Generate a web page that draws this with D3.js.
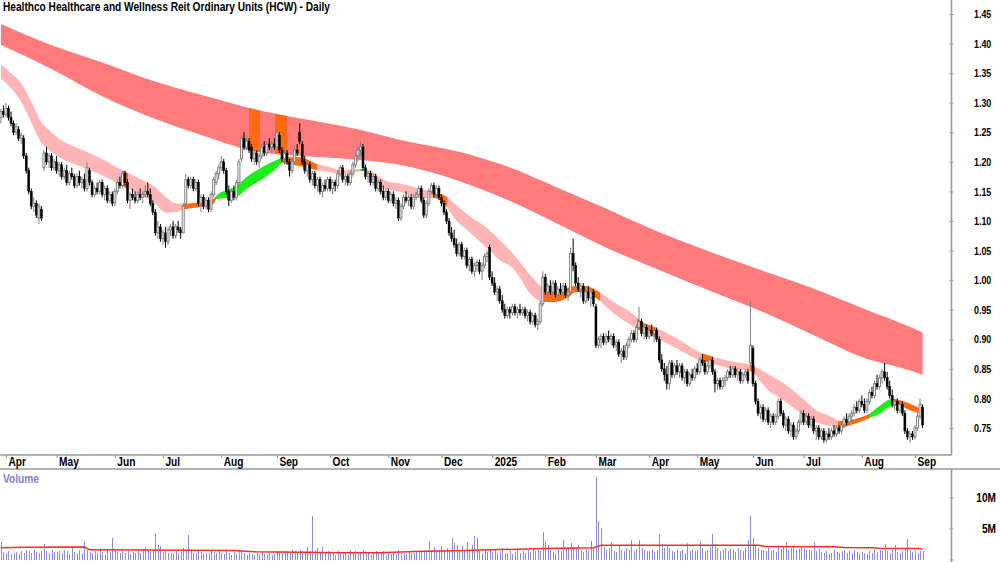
<!DOCTYPE html>
<html>
<head>
<meta charset="utf-8">
<script src="https://cdn.jsdelivr.net/npm/d3@7"></script>
<style>
  body { margin: 0; background: #fff; }
  svg { display: block; font-family: "Liberation Sans Narrow", "Arial Narrow", "Liberation Sans", Arial, sans-serif; font-weight: bold; }
</style>
</head>
<body>
<svg id="chart" width="1000" height="562"></svg>
<script>
'use strict';

// trading calendar (ASX)
var firstDay = '2024-03-27';
var lastDay = '2025-09-04';
var holidays = ['2024-03-29', '2024-04-01', '2024-04-25', '2024-06-10', '2024-12-25', '2024-12-26',
  '2025-01-01', '2025-01-27', '2025-04-18', '2025-04-21', '2025-04-25', '2025-06-09'];

// daily prices, in tenths of a cent (1275 = $1.275)
var opens = [
  1275, 1285,
  1280, 1290, 1275, 1265, 1250, 1255, 1240, 1240, 1210, 1185, 1150, 1125, 1130, 1105, 1120, 1190, 1215, 1200, 1210, 1190,
  1200, 1185, 1195, 1175, 1185, 1165, 1180, 1175, 1160, 1175, 1165, 1170, 1155, 1185, 1165, 1145, 1155, 1150, 1165, 1145, 1155, 1135, 1145,
  1130, 1150, 1165, 1160, 1180, 1165, 1135, 1145, 1140, 1135, 1145, 1140, 1145, 1150, 1145, 1130, 1115, 1080, 1090,
  1070, 1080, 1065, 1085, 1090, 1075, 1090, 1085, 1080, 1130, 1170, 1160, 1170, 1155, 1165, 1130, 1140, 1125, 1135, 1120, 1145, 1165, 1180,
  1190, 1200, 1185, 1150, 1135, 1150, 1140, 1165, 1205, 1240, 1225, 1235, 1225, 1205, 1215, 1200, 1210, 1225, 1215, 1230, 1225, 1230,
  1225, 1245, 1220, 1205, 1215, 1200, 1185, 1200, 1220, 1250, 1230, 1200, 1185, 1195, 1170, 1180, 1160, 1170, 1150, 1160, 1155,
  1170, 1155, 1165, 1160, 1180, 1190, 1170, 1175, 1165, 1180, 1195, 1210, 1220, 1225, 1190, 1175, 1180, 1165, 1175, 1155, 1165, 1150, 1140,
  1150, 1135, 1145, 1130, 1135, 1105, 1125, 1140, 1135, 1140, 1125, 1140, 1145, 1155, 1135, 1110, 1130, 1150, 1160, 1145, 1155,
  1140, 1130, 1115, 1100, 1080, 1070, 1060, 1045, 1060, 1040, 1050, 1025, 1035, 1015, 1025, 1030, 1015, 1025, 1040, 1055,
  1005, 995, 980, 985, 965, 950, 940, 950, 945, 955, 945, 950, 945, 950, 940, 945, 930, 940, 925, 930, 960,
  1005, 980, 990, 980, 995, 975, 985, 980, 990, 975, 980, 1045, 1025, 995, 985, 990, 965, 980, 970, 980,
  955, 890, 900, 905, 895, 905, 900, 905, 890, 895, 875, 880, 870, 890, 900, 910, 900, 920, 930, 910, 920,
  905, 915, 910, 915, 900, 865, 850, 840, 825, 860, 840, 855, 845, 855, 835, 845, 825, 840, 835,
  850, 845, 865, 860, 845, 855, 865, 845, 825, 830, 820, 830, 835, 845, 840, 850, 840, 845, 830, 840, 845, 860,
  885, 825, 795, 775, 785, 765, 780, 760, 770, 760, 770, 795, 775, 755, 765, 745, 755, 735, 745, 760,
  775, 760, 770, 755, 765, 745, 750, 735, 745, 730, 740, 735, 745, 740, 750, 745, 755, 765, 760, 770, 775, 785, 780,
  795, 790, 780, 795, 810, 805, 825, 820, 835, 845, 835, 820, 805, 790, 795, 780, 790, 775, 745, 735, 740,
  735, 750, 770, 785
];
var highs = [
  1290, 1295,
  1300, 1295, 1285, 1270, 1265, 1260, 1250, 1245, 1215, 1190, 1155, 1140, 1135, 1130, 1125, 1220, 1225, 1215, 1215, 1205,
  1210, 1200, 1200, 1190, 1195, 1185, 1190, 1180, 1180, 1185, 1175, 1180, 1200, 1190, 1170, 1160, 1165, 1170, 1170, 1160, 1160, 1150, 1150,
  1155, 1170, 1175, 1185, 1185, 1170, 1150, 1155, 1150, 1150, 1155, 1150, 1160, 1165, 1155, 1135, 1120, 1100, 1095,
  1085, 1090, 1090, 1095, 1100, 1095, 1100, 1090, 1130, 1180, 1175, 1175, 1175, 1170, 1170, 1145, 1145, 1140, 1140, 1150, 1175, 1185, 1195,
  1210, 1205, 1190, 1160, 1155, 1160, 1170, 1205, 1245, 1250, 1245, 1240, 1230, 1220, 1220, 1215, 1230, 1235, 1235, 1240, 1235, 1240,
  1255, 1250, 1225, 1220, 1220, 1205, 1205, 1225, 1230, 1265, 1235, 1210, 1200, 1200, 1185, 1185, 1175, 1175, 1165, 1170, 1175,
  1175, 1170, 1170, 1185, 1195, 1195, 1180, 1180, 1185, 1200, 1215, 1225, 1235, 1230, 1195, 1185, 1185, 1180, 1180, 1170, 1170, 1160, 1155,
  1155, 1150, 1150, 1140, 1140, 1130, 1145, 1150, 1145, 1145, 1145, 1150, 1160, 1160, 1140, 1135, 1155, 1165, 1165, 1160, 1160,
  1145, 1135, 1120, 1105, 1090, 1085, 1070, 1065, 1065, 1055, 1055, 1040, 1040, 1030, 1035, 1035, 1030, 1045, 1050, 1060,
  1015, 1005, 990, 990, 975, 960, 955, 955, 960, 960, 955, 960, 955, 955, 950, 950, 945, 945, 935, 965, 1015,
  1010, 995, 1000, 1000, 1000, 990, 995, 995, 995, 985, 1055, 1070, 1030, 1005, 995, 995, 985, 990, 985, 985,
  960, 905, 910, 910, 910, 915, 910, 910, 900, 900, 885, 890, 895, 905, 915, 915, 925, 955, 935, 925, 925,
  920, 925, 920, 920, 905, 875, 860, 855, 865, 865, 860, 865, 860, 860, 850, 850, 845, 850, 855,
  860, 870, 875, 865, 860, 870, 870, 850, 835, 835, 835, 840, 850, 855, 855, 855, 850, 850, 845, 850, 850, 965,
  890, 830, 800, 790, 790, 785, 785, 775, 775, 775, 800, 800, 780, 770, 770, 760, 760, 750, 765, 780,
  780, 775, 775, 770, 770, 755, 755, 750, 750, 745, 750, 750, 755, 755, 755, 760, 770, 775, 775, 780, 790, 795, 800,
  805, 800, 800, 815, 820, 830, 840, 840, 850, 860, 845, 830, 815, 800, 800, 795, 795, 780, 750, 745, 745,
  755, 775, 800, 790
];
var lows = [
  1265, 1275,
  1275, 1270, 1260, 1245, 1245, 1235, 1230, 1205, 1180, 1145, 1120, 1115, 1105, 1095, 1100, 1185, 1195, 1190, 1185, 1185,
  1180, 1175, 1170, 1170, 1160, 1160, 1170, 1155, 1155, 1160, 1155, 1150, 1150, 1160, 1140, 1140, 1145, 1145, 1140, 1135, 1130, 1130, 1125,
  1125, 1145, 1155, 1155, 1160, 1130, 1120, 1135, 1130, 1130, 1135, 1130, 1140, 1140, 1125, 1110, 1075, 1070, 1065,
  1060, 1055, 1060, 1075, 1070, 1070, 1080, 1070, 1080, 1125, 1155, 1155, 1150, 1150, 1125, 1115, 1120, 1120, 1115, 1115, 1140, 1160, 1170,
  1185, 1180, 1145, 1125, 1130, 1135, 1135, 1160, 1200, 1220, 1220, 1215, 1200, 1195, 1195, 1190, 1205, 1210, 1210, 1220, 1215, 1220,
  1220, 1215, 1200, 1195, 1195, 1175, 1180, 1195, 1210, 1230, 1195, 1180, 1175, 1165, 1160, 1155, 1150, 1145, 1140, 1150, 1150,
  1150, 1145, 1150, 1155, 1175, 1165, 1160, 1160, 1160, 1175, 1190, 1200, 1210, 1185, 1170, 1165, 1160, 1160, 1150, 1150, 1145, 1135, 1135,
  1130, 1130, 1125, 1120, 1100, 1100, 1120, 1130, 1125, 1120, 1120, 1135, 1140, 1130, 1105, 1105, 1125, 1145, 1140, 1140, 1135,
  1125, 1110, 1095, 1075, 1065, 1055, 1040, 1040, 1035, 1035, 1020, 1015, 1010, 1005, 1015, 1010, 1000, 1020, 1030, 1000,
  990, 975, 965, 960, 945, 935, 935, 935, 940, 940, 935, 940, 940, 935, 930, 925, 925, 920, 915, 925, 955,
  975, 970, 975, 975, 970, 965, 975, 975, 970, 965, 975, 1015, 990, 980, 970, 960, 960, 965, 955, 955,
  885, 885, 885, 890, 890, 895, 890, 885, 880, 870, 860, 865, 865, 885, 895, 895, 895, 915, 905, 900, 900,
  900, 905, 895, 895, 860, 845, 830, 815, 815, 835, 835, 840, 835, 830, 825, 820, 820, 830, 830,
  840, 840, 855, 840, 840, 850, 840, 810, 815, 815, 815, 820, 830, 835, 835, 835, 830, 825, 825, 835, 825, 855,
  820, 790, 770, 765, 760, 760, 755, 750, 755, 755, 765, 770, 750, 745, 740, 735, 730, 730, 740, 755,
  755, 755, 750, 750, 740, 730, 730, 730, 725, 725, 730, 730, 735, 735, 740, 740, 750, 755, 755, 760, 770, 775, 775,
  785, 775, 775, 790, 800, 800, 815, 815, 825, 830, 815, 800, 785, 780, 775, 775, 770, 740, 730, 725, 730,
  730, 745, 765, 750
];
var closes = [
  1285, 1280,
  1290, 1275, 1265, 1250, 1260, 1240, 1245, 1210, 1185, 1150, 1125, 1130, 1110, 1125, 1105, 1215, 1200, 1210, 1190, 1200,
  1185, 1195, 1175, 1185, 1165, 1180, 1175, 1160, 1175, 1165, 1170, 1155, 1190, 1165, 1145, 1155, 1150, 1165, 1145, 1155, 1135, 1145, 1130,
  1150, 1165, 1160, 1180, 1165, 1135, 1145, 1140, 1135, 1145, 1140, 1145, 1150, 1145, 1130, 1115, 1080, 1090, 1070,
  1080, 1065, 1085, 1090, 1075, 1090, 1085, 1080, 1125, 1170, 1160, 1170, 1155, 1165, 1130, 1140, 1125, 1135, 1120, 1145, 1170, 1180, 1190,
  1200, 1185, 1150, 1135, 1150, 1140, 1165, 1200, 1240, 1225, 1235, 1220, 1205, 1215, 1200, 1210, 1225, 1215, 1230, 1225, 1230, 1225,
  1250, 1220, 1205, 1215, 1200, 1185, 1200, 1220, 1215, 1235, 1200, 1185, 1195, 1170, 1180, 1160, 1170, 1150, 1160, 1155, 1170,
  1155, 1165, 1160, 1180, 1190, 1170, 1175, 1165, 1180, 1195, 1210, 1220, 1225, 1190, 1175, 1180, 1165, 1175, 1155, 1165, 1150, 1140, 1150,
  1135, 1145, 1130, 1135, 1105, 1125, 1140, 1135, 1140, 1125, 1140, 1145, 1155, 1135, 1110, 1130, 1150, 1160, 1145, 1155, 1140,
  1130, 1115, 1100, 1080, 1070, 1060, 1045, 1060, 1040, 1050, 1025, 1035, 1015, 1025, 1030, 1015, 1025, 1040, 1045, 1005,
  995, 980, 985, 965, 950, 940, 950, 945, 955, 945, 950, 945, 950, 940, 945, 930, 940, 925, 930, 960, 1005,
  980, 990, 980, 995, 975, 985, 980, 990, 975, 980, 1045, 1025, 995, 985, 990, 965, 980, 970, 980, 960,
  890, 900, 905, 895, 905, 900, 905, 890, 895, 875, 880, 870, 890, 900, 910, 900, 920, 930, 910, 920, 905,
  915, 910, 915, 900, 865, 850, 840, 825, 860, 840, 855, 845, 855, 835, 845, 825, 840, 835, 850,
  845, 865, 860, 845, 855, 865, 845, 825, 830, 820, 830, 835, 845, 840, 850, 840, 845, 830, 840, 845, 830, 890,
  825, 795, 775, 785, 765, 780, 760, 770, 760, 770, 795, 775, 755, 765, 745, 755, 735, 745, 760, 775,
  760, 770, 755, 765, 745, 750, 735, 745, 730, 740, 735, 745, 740, 750, 745, 755, 765, 760, 770, 775, 785, 780, 795,
  790, 780, 795, 810, 805, 825, 820, 835, 845, 835, 820, 805, 790, 795, 780, 790, 775, 745, 735, 740, 735,
  750, 770, 790, 755
];

// daily volume, millions of units
var volumes = [
  2.8, 1.2,
  1.0, 1.3, 0.9, 1.1, 1.2, 0.9, 1.4, 1.0, 1.6, 1.3, 1.1, 1.5, 1.2, 1.0, 1.4, 2.5, 1.3, 1.1, 1.6, 1.2,
  1.2, 1.4, 1.0, 1.6, 1.3, 0.9, 1.8, 1.2, 1.1, 1.5, 1.0, 2.9, 1.6, 1.2, 1.0, 1.3, 1.1, 1.7, 1.2, 0.9, 1.5, 1.2, 3.4,
  1.5, 1.2, 1.0, 1.3, 1.1, 1.4, 0.9, 1.2, 1.0, 1.3, 1.1, 1.6, 2.0, 1.4, 1.2, 1.5, 4.2, 2.4, 2.2,
  1.2, 1.4, 1.0, 1.1, 0.9, 1.3, 1.0, 1.2, 1.8, 1.5, 4.0, 1.3, 1.1, 1.0, 1.4, 1.2, 0.9, 1.1, 1.0, 1.3, 1.2, 1.0, 1.4,
  1.1, 0.9, 1.3, 1.0, 0.8, 1.2, 0.9, 1.5, 1.3, 1.0, 0.8, 1.1, 0.9, 0.7, 1.0, 0.8, 1.2, 0.9, 0.8, 1.0, 0.7, 0.9,
  1.4, 1.2, 1.3, 1.0, 1.4, 1.2, 1.5, 1.3, 1.1, 1.6, 1.4, 1.2, 2.0, 1.3, 7.0, 1.5, 1.8, 1.2, 2.0, 1.0, 1.3,
  1.0, 1.2, 0.8, 1.4, 1.1, 0.9, 1.0, 0.8, 1.5, 1.1, 1.3, 1.0, 1.2, 1.6, 0.9, 1.0, 0.8, 1.1, 1.3, 0.9, 1.0, 1.4, 0.8,
  1.0, 0.9, 1.2, 0.8, 1.5, 1.0, 1.1, 0.9, 1.3, 1.0, 1.1, 1.4, 1.2, 1.5, 1.3, 1.6, 3.0, 1.4, 2.0, 1.2, 1.5,
  2.1, 1.5, 1.8, 1.6, 3.5, 2.6, 2.3, 1.4, 2.2, 1.5, 2.8, 1.6, 2.4, 3.8, 3.6, 1.3, 1.0, 1.5, 1.2, 1.6,
  1.2, 1.5, 1.0, 1.3, 1.8, 1.1, 1.0, 1.4, 0.9, 1.2, 1.6, 1.1, 1.3, 1.0, 1.5, 1.2, 1.8, 1.3, 1.6, 1.4, 4.4,
  3.0, 2.3, 1.5, 1.2, 1.0, 1.6, 1.3, 3.1, 1.7, 1.9, 2.7, 2.0, 1.8, 2.3, 1.5, 1.2, 1.6, 1.4, 3.0, 1.8,
  13.2, 6.2, 5.0, 2.0, 1.5, 1.8, 2.8, 1.4, 1.2, 2.1, 1.6, 1.3, 1.8, 1.5, 3.2, 1.4, 1.7, 3.2, 1.9, 1.5, 1.3,
  1.4, 1.6, 1.2, 1.5, 4.1, 2.5, 1.8, 2.2, 1.9, 1.4, 1.2, 1.6, 1.3, 1.5, 1.1, 2.6, 1.4, 1.7, 1.3,
  1.5, 3.0, 1.8, 1.4, 1.6, 2.0, 4.1, 2.5, 1.9, 1.3, 1.5, 1.8, 1.4, 1.7, 1.6, 1.2, 1.9, 1.5, 1.3, 1.8, 3.2, 7.0,
  3.4, 2.2, 1.8, 1.5, 1.6, 1.3, 1.9, 1.4, 1.6, 1.2, 2.3, 1.7, 2.1, 2.8, 1.6, 1.8, 2.4, 1.5, 1.7, 2.2,
  1.9, 1.5, 1.6, 1.3, 2.8, 1.4, 1.7, 1.2, 1.0, 1.3, 0.9, 1.1, 1.5, 1.2, 1.0, 1.4, 1.6, 1.1, 1.3, 1.0, 1.5, 1.2, 1.1,
  1.2, 1.0, 0.9, 1.3, 1.1, 1.5, 1.2, 1.6, 1.4, 2.5, 1.3, 1.1, 1.6, 2.3, 1.2, 1.0, 1.4, 1.8, 3.3, 1.5, 1.2,
  1.3, 1.0, 1.4, 1.4
];

// volume average line (day index, millions)
var volAvgIdx = [0, 10, 33, 35, 92, 100, 135, 150, 163, 180, 197, 215, 234, 237, 299, 302, 329, 333, 344, 347, 362, 364];
var volAvg = [1.9, 1.95, 2.0, 1.56, 1.45, 1.25, 1.1, 1.1, 1.3, 1.4, 1.6, 1.75, 1.9, 2.3, 2.3, 2.1, 2.05, 1.93, 1.9, 1.82, 1.75, 1.7];

// long-term moving average ribbon (day index, upper and lower edge)
var longIdx = [0, 20, 40, 60, 80, 100, 120, 140, 160, 180, 200, 220, 240, 260, 280, 300, 320, 340, 360, 364];
var longTop = [1.433, 1.397, 1.368, 1.337, 1.312, 1.289, 1.272, 1.256, 1.235, 1.218, 1.192, 1.156, 1.119, 1.081, 1.048, 1.017, 0.987, 0.953, 0.919, 0.911];
var longBot = [1.398, 1.357, 1.311, 1.274, 1.244, 1.218, 1.210, 1.204, 1.193, 1.169, 1.136, 1.095, 1.053, 1.017, 0.982, 0.948, 0.909, 0.870, 0.846, 0.840];
var longHiStart = [98, 108.2];
var longHiEnd = [102.3, 113];

// short-term moving average ribbon
var shortIdx = [0, 4, 8, 12, 16, 19, 23, 31, 39, 47, 55, 61, 65, 69, 72, 79, 84, 85, 93, 97,
  102, 105, 109, 111, 114, 118, 125, 130, 134, 140, 143, 146, 152, 158, 166, 171, 176, 179, 184, 192,
  197, 202, 210, 214, 218, 224, 227, 231, 235, 242, 250, 252, 259, 268, 276, 280, 288, 296, 303, 309,
  316, 322, 329, 331, 337, 343, 347, 352, 355, 359, 364];
var shortTop = [1.365, 1.350, 1.333, 1.301, 1.267, 1.254, 1.239, 1.222, 1.207, 1.188, 1.171, 1.157, 1.141, 1.130, 1.129, 1.132, 1.137, 1.142, 1.159, 1.174,
  1.188, 1.195, 1.203, 1.207, 1.208, 1.208, 1.196, 1.191, 1.186, 1.188, 1.188, 1.185, 1.168, 1.163, 1.154, 1.149, 1.141, 1.130, 1.112, 1.088,
  1.068, 1.046, 1.004, 0.987, 0.982, 0.987, 0.990, 0.990, 0.983, 0.963, 0.941, 0.933, 0.919, 0.899, 0.878, 0.872, 0.863, 0.857, 0.841, 0.826,
  0.802, 0.780, 0.767, 0.762, 0.765, 0.774, 0.787, 0.799, 0.797, 0.791, 0.780];
var shortBot = [1.340, 1.325, 1.301, 1.267, 1.232, 1.220, 1.208, 1.193, 1.179, 1.161, 1.144, 1.129, 1.114, 1.115, 1.119, 1.124, 1.129, 1.137, 1.141, 1.154,
  1.168, 1.176, 1.190, 1.198, 1.196, 1.193, 1.186, 1.183, 1.179, 1.183, 1.185, 1.176, 1.154, 1.149, 1.139, 1.139, 1.125, 1.105, 1.085, 1.054,
  1.034, 1.021, 0.973, 0.963, 0.963, 0.971, 0.980, 0.978, 0.970, 0.944, 0.921, 0.916, 0.902, 0.882, 0.865, 0.860, 0.851, 0.846, 0.814, 0.797,
  0.775, 0.760, 0.752, 0.750, 0.757, 0.767, 0.774, 0.787, 0.787, 0.780, 0.774];
var shortSegStart = [48.2, 71.9, 84.9, 111, 133.1, 141.8, 170.6, 214.1, 251.2, 277.3, 295.8, 330.6, 343.2, 352.3];
var shortSegEnd = [50.2, 84.9, 111, 124.8, 134.7, 143.8, 176.2, 236.6, 259.1, 281.2, 297.8, 343.2, 352.3, 364.5];
var shortSegKind = ['in', 'in', 'up', 'in', 'in', 'up', 'in', 'in', 'in', 'in', 'in', 'in', 'up', 'in'];

var priceTicks = [0.75, 0.80, 0.85, 0.90, 0.95, 1.00, 1.05, 1.10, 1.15, 1.20, 1.25, 1.30, 1.35, 1.40, 1.45];
var volTicks = [0, 5, 10];

var colors = { long: '#ff7a7a', short: '#ffb5b5', in: '#ff6a10', up: '#18f018', vol: '#8e8ed8', volAvg: '#ff2a2a' };

var axisX = 949.5;
var priceBottom = 455;
var dateBottom = 469;
var titleWidth = 327;

var svg = d3.select('#chart');
var defs = svg.append('defs');

// title first: its width sets how much the other labels are squeezed
var title = svg.append('text').attr('x', 3).attr('y', 10.5).attr('font-size', 12).attr('fill', '#000')
  .text('Healthco Healthcare and Wellness Reit Ordinary Units (HCW) - Daily');
var squeezeK = titleWidth / title.node().getComputedTextLength();
title.attr('textLength', titleWidth).attr('lengthAdjust', 'spacingAndGlyphs');

var squeeze = function (sel, k) {
  sel.each(function () {
    var w = this.getComputedTextLength();
    d3.select(this).attr('textLength', w * k).attr('lengthAdjust', 'spacingAndGlyphs');
  });
};

var hol = new Set(holidays);
var fmtDay = d3.utcFormat('%Y-%m-%d');
var days = d3.utcDays(new Date(firstDay + 'T00:00Z'), d3.utcDay.offset(new Date(lastDay + 'T00:00Z'), 1))
  .filter(function (d) { return d.getUTCDay() % 6 !== 0 && !hol.has(fmtDay(d)); });

var n = Math.min(closes.length, opens.length, highs.length, lows.length, volumes.length);

var x = d3.scaleLinear().domain([0, n - 1]).range([0.9, 922.6]);
var y = d3.scaleLinear().domain([0.75, 1.45]).range([428, 14]);
var yv = d3.scaleLinear().domain([0, 10]).range([559.5, 497.3]);

// ribbons
var ribbon = d3.area().curve(d3.curveMonotoneX)
  .x(function (d) { return x(d.i); })
  .y0(function (d) { return y(d.bot); })
  .y1(function (d) { return y(d.top); });

var longData = longIdx.map(function (d, k) { return { i: d, top: longTop[k], bot: longBot[k] }; });
var shortData = shortIdx.map(function (d, k) { return { i: d, top: shortTop[k], bot: shortBot[k] }; });

var clipRange = function (id, a, b) {
  defs.append('clipPath').attr('id', id).append('rect')
    .attr('x', x(a)).attr('y', 0).attr('width', x(b) - x(a)).attr('height', priceBottom);
  return 'url(#' + id + ')';
};

var bands = svg.insert('g', 'text').attr('class', 'bands');
bands.append('path').datum(longData).attr('d', ribbon).attr('fill', colors.long);
longHiStart.forEach(function (s, k) {
  bands.append('path').datum(longData).attr('d', ribbon).attr('fill', colors.in)
    .attr('clip-path', clipRange('lhi' + k, s, longHiEnd[k]));
});

bands.append('path').datum(shortData).attr('d', ribbon).attr('fill', colors.short);
shortSegStart.forEach(function (s, k) {
  bands.append('path').datum(shortData).attr('d', ribbon).attr('fill', colors[shortSegKind[k]])
    .attr('clip-path', clipRange('shi' + k, s, shortSegEnd[k]));
});

// candlesticks
var bars = d3.range(n).map(function (i) {
  return { i: i, o: opens[i] / 1000, h: highs[i] / 1000, l: lows[i] / 1000, c: closes[i] / 1000 };
});

var candle = svg.append('g').attr('class', 'candlestick')
  .selectAll('g').data(bars).join('g')
  .attr('class', function (d) { return d.c >= d.o ? 'up' : 'down'; });

candle.append('line')
  .attr('x1', function (d) { return x(d.i); })
  .attr('x2', function (d) { return x(d.i); })
  .attr('y1', function (d) { return y(d.h); })
  .attr('y2', function (d) { return y(d.l); })
  .attr('stroke', function (d) { return d.c >= d.o ? '#808080' : '#000'; })
  .attr('stroke-width', 1);

candle.append('rect')
  .attr('x', function (d) { return x(d.i) - 1; })
  .attr('width', 2)
  .attr('y', function (d) { return y(Math.max(d.o, d.c)); })
  .attr('height', function (d) { return Math.max(1, y(Math.min(d.o, d.c)) - y(Math.max(d.o, d.c))); })
  .attr('fill', function (d) { return d.c >= d.o ? '#fff' : '#000'; })
  .attr('stroke', function (d) { return d.c >= d.o ? '#808080' : '#000'; })
  .attr('stroke-width', function (d) { return d.c >= d.o ? 1 : 0.5; });

// volume
svg.append('g').attr('class', 'volume')
  .selectAll('rect').data(bars).join('rect')
  .attr('x', function (d) { return Math.round(x(d.i)); })
  .attr('width', 1)
  .attr('y', function (d) { return yv(volumes[d.i]); })
  .attr('height', function (d) { return yv(0) - yv(volumes[d.i]); })
  .attr('fill', colors.vol)
  .attr('shape-rendering', 'crispEdges');

svg.append('path')
  .datum(volAvgIdx.map(function (d, k) { return [x(d), yv(volAvg[k])]; }))
  .attr('d', d3.line())
  .attr('fill', 'none')
  .attr('stroke', colors.volAvg)
  .attr('stroke-width', 1.5);

// frame lines
var frame = svg.append('g').attr('stroke', '#9a9a9a').attr('stroke-width', 1.6);
frame.append('line').attr('x1', 0).attr('x2', axisX + 2).attr('y1', priceBottom).attr('y2', priceBottom);
frame.append('line').attr('x1', 0).attr('x2', 1000).attr('y1', dateBottom).attr('y2', dateBottom);
frame.append('line').attr('x1', axisX + 2).attr('x2', axisX + 2).attr('y1', 0).attr('y2', priceBottom);
frame.append('line').attr('x1', axisX + 2).attr('x2', axisX + 2).attr('y1', dateBottom).attr('y2', 562);

// price axis
var yAxis = d3.axisRight(y).tickValues(priceTicks).tickFormat(d3.format('.2f')).tickSize(4).tickPadding(20.5);
var gy = svg.append('g').attr('transform', 'translate(' + axisX + ',0)').call(yAxis);
gy.select('.domain').remove();
gy.selectAll('line').attr('stroke', '#9a9a9a');
gy.selectAll('text').attr('font-size', 10.5).attr('font-family', null).attr('fill', '#000').attr('dy', '0.35em')
  .call(squeeze, squeezeK);

// volume axis
var vAxis = d3.axisRight(yv).tickValues(volTicks).tickFormat(function (d) { return d ? d + 'M' : ''; }).tickSize(4);
var gv = svg.append('g').attr('transform', 'translate(' + axisX + ',0)').call(vAxis);
gv.select('.domain').remove();
gv.selectAll('line').attr('stroke', '#9a9a9a');
gv.selectAll('text').attr('font-size', 12).attr('font-family', null).attr('fill', '#000')
  .attr('text-anchor', 'end').attr('x', 996 - axisX).attr('dy', '0.35em')
  .call(squeeze, squeezeK);

// month axis
var monthIdx = d3.range(1, Math.min(days.length, n)).filter(function (i) {
  return days[i].getUTCMonth() !== days[i - 1].getUTCMonth();
});
var xAxis = d3.axisBottom(x).tickValues(monthIdx).tickSize(3).tickPadding(-0.5)
  .tickFormat(function (i) { return days[i].getUTCMonth() === 0 ? d3.utcFormat('%Y')(days[i]) : d3.utcFormat('%b')(days[i]); });
var gx = svg.append('g').attr('transform', 'translate(0,' + priceBottom + ')').call(xAxis);
gx.select('.domain').remove();
gx.selectAll('line').attr('stroke', '#9a9a9a').attr('stroke-width', 1.2);
gx.selectAll('text').attr('font-size', 12).attr('font-family', null).attr('fill', '#000')
  .attr('text-anchor', 'start').attr('x', 2)
  .call(squeeze, squeezeK);

svg.append('text').attr('x', 3).attr('y', 482.5).attr('font-size', 12).attr('fill', '#8282c4')
  .text('Volume')
  .call(squeeze, squeezeK);
</script>
</body>
</html>
